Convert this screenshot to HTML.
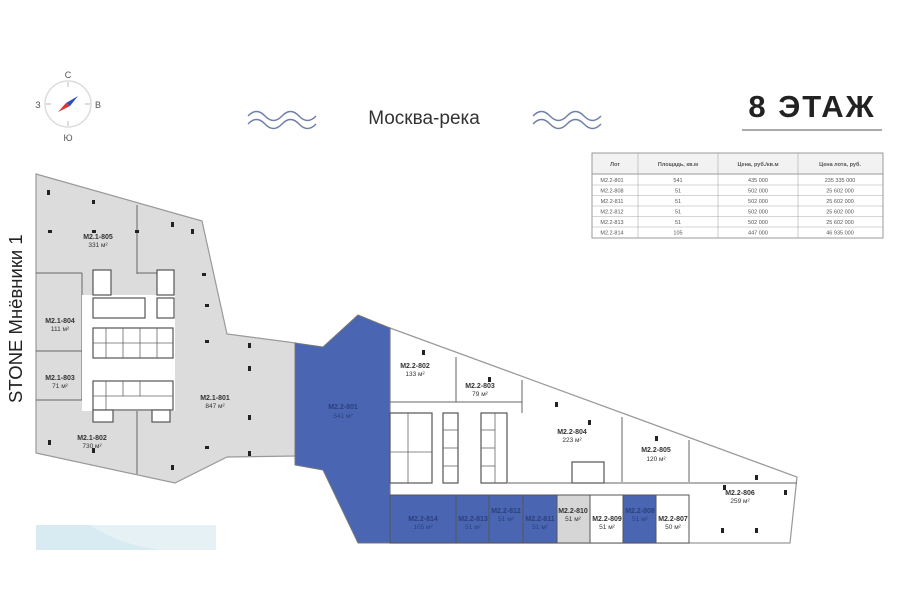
<!DOCTYPE html>
<html><head><meta charset="utf-8"><style>
html,body{margin:0;padding:0;background:#fff;width:900px;height:604px;overflow:hidden}
svg{display:block}
text{font-family:"Liberation Sans",sans-serif}
</style></head><body>
<svg width="900" height="604" viewBox="0 0 900 604" xmlns="http://www.w3.org/2000/svg">
<!-- compass -->
<circle cx="68" cy="104" r="23" fill="none" stroke="#ddd" stroke-width="1.5"/>
<g stroke="#bbb" stroke-width="1"><line x1="68" y1="82" x2="68" y2="87"/><line x1="68" y1="121" x2="68" y2="126"/><line x1="46" y1="104" x2="51" y2="104"/><line x1="85" y1="104" x2="90" y2="104"/></g>
<polygon points="58,112 66,103 70,106" fill="#d33"/>
<polygon points="78,96 66,103 70,106" fill="#2a4fc0"/>
<g font-size="9" fill="#555" text-anchor="middle"><text x="68" y="78">С</text><text x="68" y="141">Ю</text><text x="38" y="108">З</text><text x="98" y="108">В</text></g>
<!-- waves -->
<g fill="none" stroke="#6d7fa8" stroke-width="1.4">
<path d="M248,116 q8.5,-9 17,0 t17,0 t17,0 t17,0"/><path d="M248,124 q8.5,-9 17,0 t17,0 t17,0 t17,0"/>
<path d="M533,116 q8.5,-9 17,0 t17,0 t17,0 t17,0"/><path d="M533,124 q8.5,-9 17,0 t17,0 t17,0 t17,0"/>
</g>
<text x="424" y="124" font-size="19" fill="#333" text-anchor="middle">Москва-река</text>
<text x="812" y="117" font-size="31" font-weight="bold" fill="#222" text-anchor="middle" letter-spacing="2">8 ЭТАЖ</text>
<line x1="742" y1="130" x2="882" y2="130" stroke="#555" stroke-width="1"/>
<!-- table -->
<g font-size="5.5" fill="#555" text-anchor="middle">
<rect x="592" y="153" width="291" height="85" fill="#fff" stroke="#999"/>
<rect x="592" y="153" width="291" height="21" fill="#f2f2f2" stroke="#999"/>
<g stroke="#aaa" stroke-width="0.6">
<line x1="638" y1="153" x2="638" y2="238"/><line x1="718" y1="153" x2="718" y2="238"/><line x1="798" y1="153" x2="798" y2="238"/>
<line x1="592" y1="185" x2="883" y2="185"/><line x1="592" y1="195.5" x2="883" y2="195.5"/><line x1="592" y1="206" x2="883" y2="206"/><line x1="592" y1="216.5" x2="883" y2="216.5"/><line x1="592" y1="227" x2="883" y2="227"/>
</g>
<g font-weight="bold"><text x="615" y="166">Лот</text><text x="678" y="166">Площадь, кв.м</text><text x="758" y="166">Цена, руб./кв.м</text><text x="840" y="166">Цена лота, руб.</text></g>
<text x="612" y="182">M2.2-801</text><text x="678" y="182">541</text><text x="758" y="182">435 000</text><text x="840" y="182">235 335 000</text>
<text x="612" y="192.5">M2.2-808</text><text x="678" y="192.5">51</text><text x="758" y="192.5">502 000</text><text x="840" y="192.5">25 602 000</text>
<text x="612" y="203">M2.2-811</text><text x="678" y="203">51</text><text x="758" y="203">502 000</text><text x="840" y="203">25 602 000</text>
<text x="612" y="213.5">M2.2-812</text><text x="678" y="213.5">51</text><text x="758" y="213.5">502 000</text><text x="840" y="213.5">25 602 000</text>
<text x="612" y="224">M2.2-813</text><text x="678" y="224">51</text><text x="758" y="224">502 000</text><text x="840" y="224">25 602 000</text>
<text x="612" y="234.5">M2.2-814</text><text x="678" y="234.5">105</text><text x="758" y="234.5">447 000</text><text x="840" y="234.5">46 935 000</text>
</g>
<!-- vertical label -->
<text transform="translate(22,403) rotate(-90)" font-size="18.5" fill="#222">STONE Мнёвники 1</text>
<!-- left building -->
<polygon points="36,174 202,221 227,334 296,343 296,456 227,457 175,483 36,453" fill="#dcdcdc" stroke="#999" stroke-width="1.2"/>
<g stroke="#666" stroke-width="1" fill="none">
<line x1="137" y1="205" x2="137" y2="274"/><line x1="137" y1="410" x2="137" y2="474"/>
<line x1="36" y1="273" x2="82" y2="273"/><line x1="36" y1="351" x2="82" y2="351"/><line x1="36" y1="400" x2="82" y2="400"/><line x1="82" y1="273" x2="82" y2="400"/>
<line x1="137" y1="273" x2="173" y2="273"/>
</g>
<rect x="82" y="295" width="93" height="116" fill="#fff"/>
<g stroke="#555" stroke-width="1.2" fill="#fff">
<rect x="93" y="298" width="52" height="20"/><rect x="157" y="298" width="17" height="20"/>
<rect x="93" y="328" width="80" height="30"/><rect x="93" y="381" width="80" height="29"/>
<rect x="93" y="270" width="18" height="25"/><rect x="157" y="270" width="17" height="25"/>
<rect x="93" y="410" width="20" height="12"/><rect x="152" y="410" width="18" height="12"/>
</g>
<g stroke="#666" stroke-width="0.8"><line x1="106" y1="328" x2="106" y2="358"/><line x1="123" y1="328" x2="123" y2="358"/><line x1="140" y1="328" x2="140" y2="358"/><line x1="157" y1="328" x2="157" y2="358"/><line x1="93" y1="343" x2="173" y2="343"/><line x1="106" y1="381" x2="106" y2="410"/><line x1="123" y1="381" x2="123" y2="396"/><line x1="140" y1="381" x2="140" y2="396"/><line x1="93" y1="396" x2="173" y2="396"/></g>
<!-- right building -->
<polygon points="390,328 797,477 790,543 390,543" fill="#fff" stroke="#999" stroke-width="1.2"/>
<polygon points="295,343 323,347 358,315 390,328 390,543 358,543 323,470 295,465" fill="#4a66b3" stroke="#777" stroke-width="1"/>
<!-- bottom units -->
<g stroke="#555" stroke-width="1">
<rect x="390" y="495" width="66" height="48" fill="#4a66b3"/>
<rect x="456" y="495" width="33" height="48" fill="#4a66b3"/>
<rect x="489" y="495" width="34" height="48" fill="#4a66b3"/>
<rect x="523" y="495" width="34" height="48" fill="#4a66b3"/>
<rect x="557" y="495" width="33" height="48" fill="#d6d6d6"/>
<rect x="590" y="495" width="33" height="48" fill="#fff"/>
<rect x="623" y="495" width="33" height="48" fill="#4a66b3"/>
<rect x="656" y="495" width="33" height="48" fill="#fff"/>
</g>
<g stroke="#666" stroke-width="1" fill="none">
<line x1="456" y1="357" x2="456" y2="402"/><line x1="390" y1="402" x2="522" y2="402"/>
<line x1="522" y1="380" x2="522" y2="413"/><line x1="622" y1="417" x2="622" y2="482"/><line x1="689" y1="440" x2="689" y2="482"/>
<line x1="508" y1="483" x2="797" y2="483"/>
</g>
<!-- core -->
<g stroke="#555" stroke-width="1.2" fill="#fff">
<rect x="390" y="413" width="42" height="70"/><rect x="443" y="413" width="15" height="70"/><rect x="481" y="413" width="26" height="70"/>
<rect x="572" y="462" width="32" height="21"/>
</g>
<g stroke="#666" stroke-width="0.8" fill="none">
<line x1="443" y1="430" x2="458" y2="430"/><line x1="443" y1="448" x2="458" y2="448"/><line x1="443" y1="466" x2="458" y2="466"/>
<line x1="481" y1="430" x2="495" y2="430"/><line x1="481" y1="448" x2="495" y2="448"/><line x1="481" y1="466" x2="495" y2="466"/><line x1="495" y1="413" x2="495" y2="483"/>
<line x1="390" y1="452" x2="432" y2="452"/><line x1="408" y1="413" x2="408" y2="483"/>
</g>
<!-- columns -->
<g fill="#222">
<rect x="47" y="190" width="3" height="5"/><rect x="92" y="200" width="3" height="4"/><rect x="48" y="230" width="4" height="3"/><rect x="92" y="230" width="4" height="3"/><rect x="135" y="230" width="4" height="3"/><rect x="171" y="222" width="3" height="5"/><rect x="191" y="229" width="3" height="5"/><rect x="202" y="273" width="4" height="3"/><rect x="205" y="304" width="4" height="3"/><rect x="205" y="340" width="4" height="3"/><rect x="248" y="343" width="3" height="5"/><rect x="248" y="366" width="3" height="5"/><rect x="248" y="415" width="3" height="5"/><rect x="205" y="446" width="4" height="3"/><rect x="248" y="451" width="3" height="5"/><rect x="171" y="465" width="3" height="5"/><rect x="48" y="440" width="3" height="5"/><rect x="92" y="448" width="3" height="5"/>
<rect x="784" y="490" width="3" height="5"/><rect x="723" y="485" width="3" height="5"/><rect x="755" y="475" width="3" height="5"/><rect x="721" y="528" width="3" height="5"/><rect x="755" y="528" width="3" height="5"/><rect x="555" y="402" width="3" height="5"/><rect x="588" y="420" width="3" height="5"/><rect x="655" y="436" width="3" height="5"/><rect x="422" y="350" width="3" height="5"/><rect x="488" y="377" width="3" height="5"/>
</g>
<!-- labels -->
<g font-size="7" text-anchor="middle" fill="#333">
<g font-weight="bold"><text x="98" y="239">M2.1-805</text><text x="60" y="323">M2.1-804</text><text x="60" y="380">M2.1-803</text><text x="92" y="440">M2.1-802</text><text x="215" y="400">M2.1-801</text>
<text x="415" y="368">M2.2-802</text><text x="480" y="388">M2.2-803</text><text x="572" y="434">M2.2-804</text><text x="656" y="452">M2.2-805</text><text x="740" y="495">M2.2-806</text><text x="343" y="409" fill="#2c3f7a">M2.2-801</text>
<text x="423" y="521" fill="#2c3f7a">M2.2-814</text><text x="473" y="521" fill="#2c3f7a">M2.2-813</text><text x="506" y="513" fill="#2c3f7a">M2.2-812</text><text x="540" y="521" fill="#2c3f7a">M2.2-811</text><text x="573" y="513">M2.2-810</text><text x="607" y="521">M2.2-809</text><text x="640" y="513" fill="#2c3f7a">M2.2-808</text><text x="673" y="521">M2.2-807</text></g>
<g font-size="6.5"><text x="98" y="247">331 м²</text><text x="60" y="331">111 м²</text><text x="60" y="388">71 м²</text><text x="92" y="448">730 м²</text><text x="215" y="408">847 м²</text>
<text x="415" y="376">133 м²</text><text x="480" y="396">79 м²</text><text x="572" y="442">223 м²</text><text x="656" y="461">120 м²</text><text x="740" y="503">259 м²</text><text x="343" y="418" fill="#2c3f7a">541 м²</text>
<text x="423" y="529" fill="#2c3f7a">105 м²</text><text x="473" y="529" fill="#2c3f7a">51 м²</text><text x="506" y="521" fill="#2c3f7a">51 м²</text><text x="540" y="529" fill="#2c3f7a">51 м²</text><text x="573" y="521">51 м²</text><text x="607" y="529">51 м²</text><text x="640" y="521" fill="#2c3f7a">51 м²</text><text x="673" y="529">50 м²</text></g>
</g>
<!-- bottom left map fragment -->
<rect x="36" y="525" width="180" height="25" fill="#d8eaf2"/>
<path d="M90,525 Q120,545 160,550 L216,550 L216,525 Z" fill="#e6f1f6"/>
</svg>
</body></html>
